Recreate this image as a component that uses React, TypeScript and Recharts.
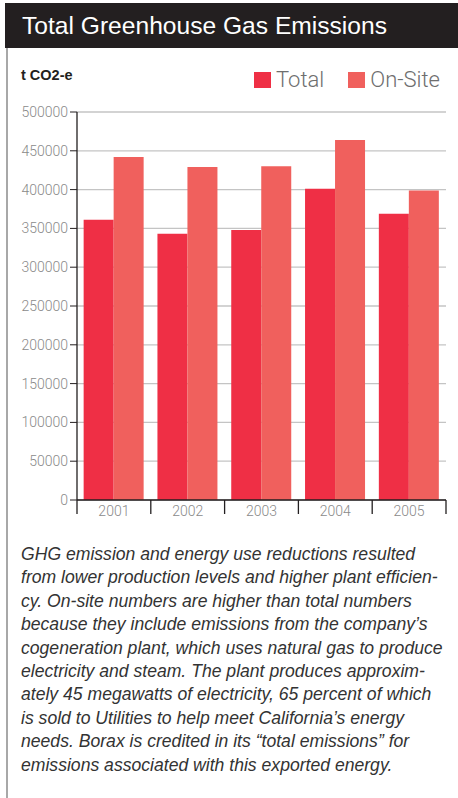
import React from 'react';
import { BarChart, Bar, XAxis, YAxis, CartesianGrid } from 'recharts';

const years = ['2001', '2002', '2003', '2004', '2005'];
const totalEmissions = [361000, 343000, 348000, 401000, 369000];
const onSiteEmissions = [442000, 429000, 430000, 464000, 399000];
const yTicks = [0, 50000, 100000, 150000, 200000, 250000, 300000, 350000, 400000, 450000, 500000];
const seriesNames = ['Total', 'On-Site'];

const captionLines = [
  'GHG emission and energy use reductions resulted',
  'from lower production levels and higher plant efficien-',
  'cy. On-site numbers are higher than total numbers',
  'because they include emissions from the company\u2019s',
  'cogeneration plant, which uses natural gas to produce',
  'electricity and steam. The plant produces approxim-',
  'ately 45 megawatts of electricity, 65 percent of which',
  'is sold to Utilities to help meet California\u2019s energy',
  'needs.  Borax is credited in its \u201ctotal emissions\u201d for',
  'emissions associated with this exported energy.',
];

const COLORS = {
  total: '#ef2f45',   // red
  onSite: '#f0605d',  // salmon
  dark: '#231f20',
  grid: '#c4c4c4',
  tick: '#8a8a8a',
};
const seriesColors = [COLORS.total, COLORS.onSite];

const SANS = '"Liberation Sans", Arial, Helvetica, sans-serif';
const LIGHT = 'Roboto, "Liberation Sans", Arial, sans-serif';

const data = years.map((year, i) => ({
  year,
  total: totalEmissions[i],
  onSite: onSiteEmissions[i],
}));

function YearTick(props: any) {
  const { x, y, payload, index } = props;
  const half = payload && payload.offset ? payload.offset : 36.9;
  const last = index === years.length - 1;
  return (
    <g>
      <line x1={x - half} y1={y} x2={x - half} y2={y + 14} stroke={COLORS.dark} strokeWidth={1.3} />
      {last && (
        <line x1={x + half} y1={y} x2={x + half} y2={y + 14} stroke={COLORS.dark} strokeWidth={1.3} />
      )}
      <text x={x} y={y + 16} textAnchor="middle" fill={COLORS.tick} fontSize={14} fontFamily={LIGHT} fontWeight={300}>
        {payload.value}
      </text>
    </g>
  );
}

export default function App() {
  return (
    <div style={{ position: 'absolute', left: 0, top: 0, width: 458, height: 798, background: '#fff', overflow: 'hidden' }}>
      <div style={{ position: 'absolute', left: 6, top: 30, width: 2, height: 768, background: '#a8a8a8' }} />
      <div
        style={{
          position: 'absolute', left: 5, top: 3, width: 453, height: 45, background: COLORS.dark,
          color: '#fff', fontFamily: SANS, fontSize: 24.6, lineHeight: '46px', paddingLeft: 17, boxSizing: 'border-box',
        }}
      >
        Total Greenhouse Gas Emissions
      </div>
      <div style={{ position: 'absolute', left: 21, top: 67, fontFamily: SANS, fontWeight: 700, fontSize: 14.5, color: COLORS.dark }}>
        t CO2-e
      </div>

      {/* legend */}
      <div style={{ position: 'absolute', top: 69, left: 254, display: 'flex', alignItems: 'center' }}>
        {seriesNames.map((name, i) => (
          <div key={`leg-${i}`} style={{ display: 'flex', alignItems: 'center', marginRight: i === 0 ? 24 : 0 }}>
            <span style={{ display: 'inline-block', width: 17, height: 16, background: seriesColors[i], marginRight: 5 }} />
            <span style={{ fontFamily: LIGHT, fontWeight: 300, fontSize: 22, color: '#6e6e6e', lineHeight: '22px' }}>
              {name}
            </span>
          </div>
        ))}
      </div>

      <div style={{ position: 'absolute', left: 0, top: 0 }}>
        <BarChart
          width={458}
          height={530}
          data={data}
          margin={{ top: 112, right: 12, bottom: 0, left: 0 }}
          barCategoryGap="9%"
          barGap={0}
        >
          <CartesianGrid vertical={false} stroke={COLORS.grid} strokeWidth={1.3} />
          <XAxis
            dataKey="year"
            height={30}
            tickLine={false}
            tickSize={0}
            tickMargin={0}
            axisLine={{ stroke: COLORS.dark, strokeWidth: 1.3 }}
            tick={<YearTick />}
            interval={0}
          />
          <YAxis
            width={77}
            domain={[0, 500000]}
            ticks={yTicks}
            interval={0}
            tickSize={7}
            tickMargin={2}
            tickLine={{ stroke: COLORS.dark }}
            axisLine={{ stroke: COLORS.dark, strokeWidth: 1.3 }}
            tick={{ fill: COLORS.tick, fontSize: 14, fontFamily: LIGHT, fontWeight: 300 }}
          />
          <Bar dataKey="total" name={seriesNames[0]} fill={COLORS.total} isAnimationActive={false} />
          <Bar dataKey="onSite" name={seriesNames[1]} fill={COLORS.onSite} isAnimationActive={false} />
        </BarChart>
      </div>

      <div
        style={{
          position: 'absolute', left: 21, top: 543, fontFamily: SANS, fontStyle: 'italic',
          fontSize: 17.6, lineHeight: '23.4px', color: '#333', whiteSpace: 'nowrap',
        }}
      >
        {captionLines.map((line, i) => (
          <div key={`cap-${i}`}>{line}</div>
        ))}
      </div>
    </div>
  );
}
